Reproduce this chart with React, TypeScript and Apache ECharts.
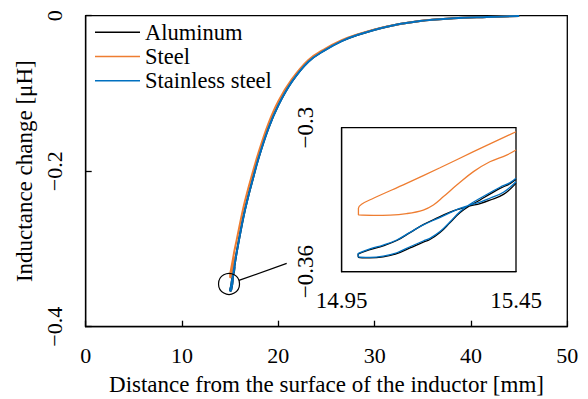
import React, { useEffect, useRef } from "react";
import * as echarts from "echarts";

// Main curve (distance in mm, inductance change in µH), far part of the sweep
const mainDistance = [45.0, 41.64, 38.17, 34.71, 31.26, 27.96, 26.58, 24.85, 23.12, 21.39, 20.0, 18.96, 17.92, 17.24, 16.88, 16.37, 15.68];
const mainAluminum = [-0.0004, -0.0017, -0.0034, -0.0068, -0.0141, -0.0257, -0.0325, -0.044, -0.059, -0.085, -0.115, -0.145, -0.184, -0.215, -0.232, -0.259, -0.304];
const mainSteel = [-0.0004, -0.0017, -0.0034, -0.0067, -0.0138, -0.025, -0.0315, -0.0425, -0.057, -0.082, -0.11, -0.139, -0.177, -0.206, -0.222, -0.247, -0.288];
const mainStainless = [-0.0004, -0.0017, -0.0034, -0.0068, -0.0141, -0.0257, -0.0326, -0.0442, -0.0592, -0.0852, -0.1152, -0.1452, -0.1843, -0.2153, -0.2323, -0.2593, -0.3043];

// Near part of the sweep (inset region 14.95–15.45 mm)
const steelLoopX = [15.45, 15.328, 15.232, 15.136, 15.041, 15.007, 14.998, 14.998, 15.041, 15.089, 15.136, 15.184, 15.213, 15.242, 15.28, 15.328, 15.375, 15.423, 15.45];
const steelLoopY = [-0.3017, -0.31, -0.3167, -0.3232, -0.3294, -0.3319, -0.3336, -0.3364, -0.3365, -0.3364, -0.3358, -0.3343, -0.3322, -0.3287, -0.3239, -0.3183, -0.3142, -0.3114, -0.3093];
const loopX = [15.45, 15.433, 15.404, 15.375, 15.347, 15.318, 15.289, 15.261, 15.232, 15.203, 15.184, 15.146, 15.108, 15.069, 15.031, 14.998, 14.997, 14.998, 15.031, 15.069, 15.108, 15.146, 15.184, 15.2225, 15.261, 15.289, 15.318, 15.347, 15.375, 15.414, 15.45];
const stainlessLoopY = [-0.3211, -0.3229, -0.3248, -0.3271, -0.3294, -0.3319, -0.335, -0.3392, -0.3433, -0.3461, -0.3472, -0.3496, -0.3521, -0.3535, -0.354, -0.3538, -0.3528, -0.3524, -0.3505, -0.3489, -0.3468, -0.3436, -0.3405, -0.338, -0.3354, -0.3336, -0.3322, -0.331, -0.3294, -0.3269, -0.3225];
const aluminumLoopY = [-0.3215, -0.3233, -0.3253, -0.3277, -0.3301, -0.3325, -0.3354, -0.3395, -0.3437, -0.3466, -0.3477, -0.3501, -0.3525, -0.3538, -0.3542, -0.354, -0.353, -0.3526, -0.3508, -0.3492, -0.347, -0.3437, -0.3404, -0.3377, -0.3352, -0.3338, -0.3326, -0.3316, -0.3302, -0.3278, -0.3232];

const seriesNames = ["Aluminum", "Steel", "Stainless steel"];
const seriesColors = ["#000000", "#EE7D31", "#0070C0"];

const mainXTicks = [0, 50, 10];
const mainYTicks = [-0.4, 0, 0.2];
const insetXLabels = [14.95, 15.45];
const insetYLabels = [-0.36, -0.3];

// Callout (circle around the loop, leader line to inset)
const calloutCenter = [14.88, -0.345];
const calloutEnd = [20.87, -0.3185];

const zip = (xs: number[], ys: number[]) => xs.map((x, i) => [x, ys[i]]);
const fmt = (v: number) => {
  const s = String(Number(v.toFixed(2)));
  return s === "0" || s === "-0" ? "0" : s.replace("-", "\u2212");
};

const FONT = "'Liberation Serif', 'Times New Roman', 'DejaVu Serif', serif";

export default function App() {
  const ref = useRef<HTMLDivElement>(null);
  useEffect(() => {
    document.body.style.margin = "0";
    const chart = echarts.init(ref.current!, null, { renderer: "svg" });
    const mainData = [
      zip(mainDistance, mainAluminum).concat(zip(loopX, aluminumLoopY)),
      zip(mainDistance, mainSteel).concat(zip(steelLoopX, steelLoopY)),
      zip(mainDistance, mainStainless).concat(zip(loopX, stainlessLoopY)),
    ];
    const insetData = [zip(loopX, aluminumLoopY), zip(steelLoopX, steelLoopY), zip(loopX, stainlessLoopY)];
    const axisLine = { show: true, onZero: false, lineStyle: { color: "#000", width: 1.3 } };
    const series: any[] = [];
    seriesNames.forEach((n, i) => {
      series.push({
        name: n, type: "line", xAxisIndex: 0, yAxisIndex: 0, data: mainData[i],
        symbol: "none", showSymbol: false, color: seriesColors[i], smooth: 0.4,
        lineStyle: { color: seriesColors[i], width: 2 }, z: 2 + i,
      });
    });
    seriesNames.forEach((n, i) => {
      series.push({
        name: n, type: "line", xAxisIndex: 1, yAxisIndex: 1, data: insetData[i],
        symbol: "none", showSymbol: false, color: seriesColors[i], smooth: 0.4,
        lineStyle: { color: seriesColors[i], width: 1.3 }, z: 5 + i,
      });
    });
    chart.setOption({
      animation: false,
      textStyle: { fontFamily: FONT, color: "#000" },
      grid: [
        { left: 85.7, top: 15.7, width: 481.6, height: 311, show: true, borderColor: "#000", borderWidth: 1.3, backgroundColor: "transparent", outerBoundsMode: "none", containLabel: false },
        { left: 341.7, top: 127.7, width: 174.3, height: 144, show: true, borderColor: "#000", borderWidth: 1.3, backgroundColor: "#fff", outerBoundsMode: "none", containLabel: false, z: 4 },
      ],
      legend: {
        data: seriesNames, orient: "vertical", left: 95, top: 20.7, padding: 0, itemGap: 1.3,
        icon: "rect", itemWidth: 45, itemHeight: 1.6,
        textStyle: { fontFamily: FONT, fontSize: 22.5, lineHeight: 22, color: "#000" },
      },
      xAxis: [
        {
          type: "value", gridIndex: 0, min: mainXTicks[0], max: mainXTicks[1], interval: mainXTicks[2],
          axisLine, axisTick: { show: true, inside: true, length: 6, lineStyle: { color: "#000", width: 1.3 } },
          axisLabel: { fontFamily: FONT, fontSize: 22, color: "#000", margin: 18, formatter: fmt },
          splitLine: { show: false },
          name: "Distance from the surface of the inductor [mm]", nameLocation: "middle", nameGap: 46,
          nameTextStyle: { fontFamily: FONT, fontSize: 23, color: "#000" },
        },
        {
          type: "value", gridIndex: 1, min: insetXLabels[0], max: insetXLabels[1],
          axisLine, axisTick: { show: false },
          axisLabel: { customValues: insetXLabels, fontFamily: FONT, fontSize: 23, color: "#000", margin: 17.5, formatter: fmt },
          splitLine: { show: false },
        },
      ],
      yAxis: [
        {
          type: "value", gridIndex: 0, min: mainYTicks[0], max: mainYTicks[1], interval: mainYTicks[2],
          axisLine, axisTick: { show: true, inside: true, length: 6, lineStyle: { color: "#000", width: 1.3 } },
          axisLabel: { fontFamily: FONT, fontSize: 22, color: "#000", margin: 20, rotate: 90, formatter: fmt },
          splitLine: { show: false },
          name: "Inductance change [\u03bcH]", nameLocation: "middle", nameGap: 47, nameRotate: 90,
          nameTextStyle: { fontFamily: FONT, fontSize: 23, color: "#000" },
        },
        {
          type: "value", gridIndex: 1, min: insetYLabels[0], max: insetYLabels[1],
          axisLine, axisTick: { show: false },
          axisLabel: { customValues: insetYLabels, fontFamily: FONT, fontSize: 23, color: "#000", margin: 25, rotate: 90, formatter: fmt },
          splitLine: { show: false },
        },
      ],
      series,
    });
    const c = chart.convertToPixel({ gridIndex: 0 }, calloutCenter) as number[];
    const e = chart.convertToPixel({ gridIndex: 0 }, calloutEnd) as number[];
    const r = 10.5;
    const dx = e[0] - c[0], dy = e[1] - c[1];
    const len = Math.hypot(dx, dy);
    chart.setOption({
      graphic: [
        { type: "circle", shape: { cx: c[0], cy: c[1], r }, style: { fill: "none", stroke: "#000", lineWidth: 1.2 }, z: 10 },
        { type: "line", shape: { x1: c[0] + (dx / len) * r, y1: c[1] + (dy / len) * r, x2: e[0], y2: e[1] }, style: { stroke: "#000", lineWidth: 1.2 }, z: 10 },
      ],
    });
    return () => chart.dispose();
  }, []);
  return <div ref={ref} style={{ width: 588, height: 399 }} />;
}
